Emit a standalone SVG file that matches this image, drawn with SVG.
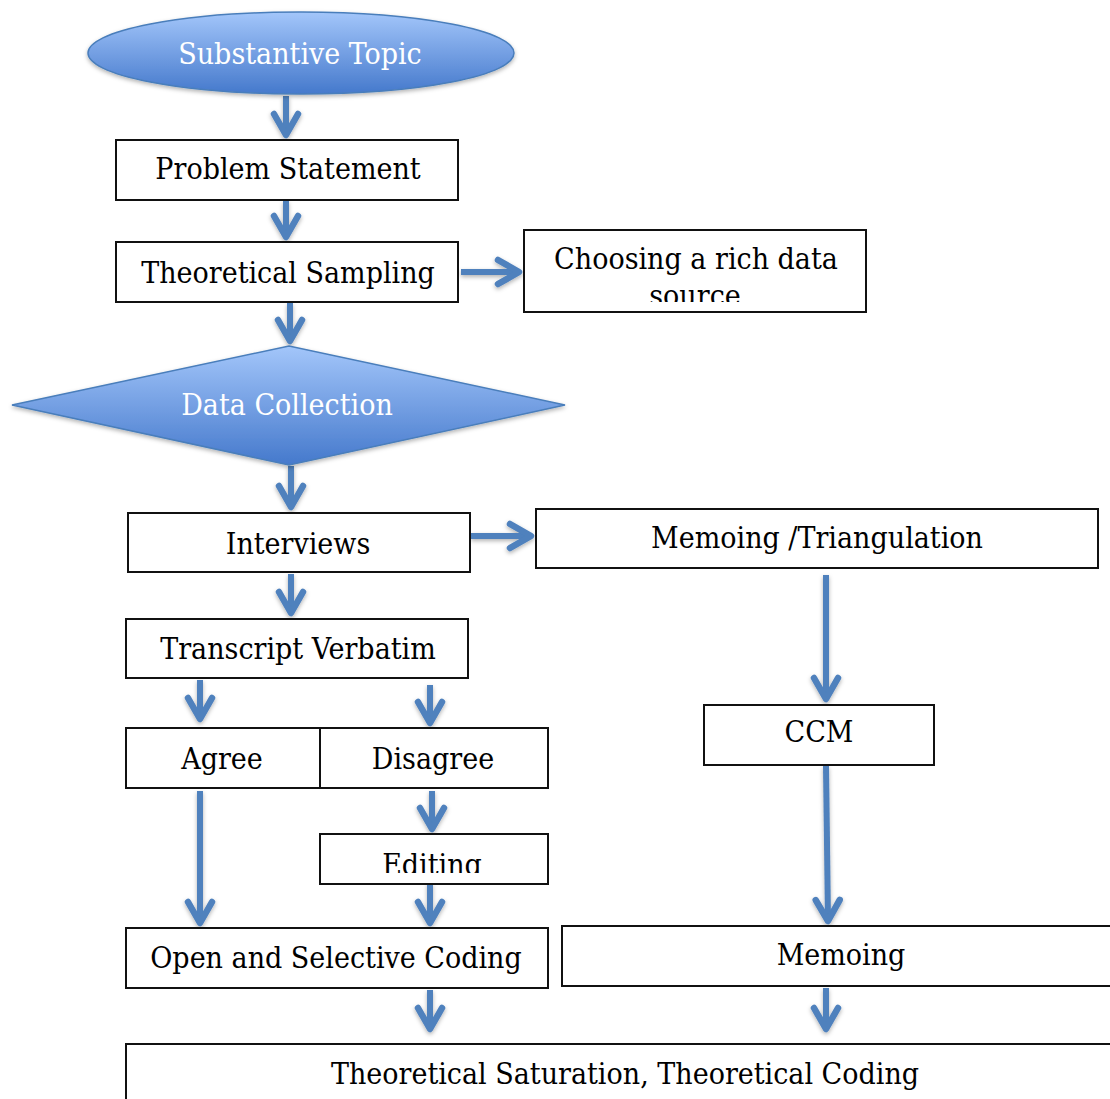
<svg xmlns="http://www.w3.org/2000/svg" width="1110" height="1099" viewBox="0 0 1110 1099">
<style>
.box{fill:#fff;stroke:#111;stroke-width:2}
.t{font-family:"DejaVu Serif Condensed","DejaVu Serif",serif;font-stretch:condensed;font-size:30px;fill:#000;text-anchor:middle}
.w{fill:#fff}
.c{fill:none;stroke:#4f81bd;stroke-width:6;marker-end:url(#ah)}
</style>
<defs>
<linearGradient id="g" x1="0" y1="0" x2="0" y2="1">
<stop offset="0" stop-color="#a3c6fa"/>
<stop offset="1" stop-color="#4579cc"/>
</linearGradient>
<filter id="sh" x="-10%" y="-10%" width="120%" height="130%">
<feDropShadow dx="0" dy="2" stdDeviation="2" flood-color="#000" flood-opacity="0.3"/>
</filter>
<marker id="ah" markerUnits="userSpaceOnUse" viewBox="-28 -16 32 32" markerWidth="32" markerHeight="32" refX="0" refY="0" orient="auto" overflow="visible">
<path d="M-21,-12 L0,0 L-21,12" fill="none" stroke="#4f81bd" stroke-width="6.5" stroke-linecap="round" stroke-linejoin="round"/>
</marker>
<clipPath id="cp1"><rect x="524" y="230" width="342" height="72"/></clipPath>
<clipPath id="cp2"><rect x="320" y="834" width="228" height="39"/></clipPath>
</defs>

<g id="connectors" filter="url(#sh)">
<path class="c" d="M286,96 V135"/>
<path class="c" d="M286,201 V237"/>
<path class="c" d="M461,272 H519"/>
<path class="c" d="M290,303 V341"/>
<path class="c" d="M291,466 V507"/>
<path class="c" d="M471,536 H531"/>
<path class="c" d="M291,574 V613"/>
<path class="c" d="M826,575 V699"/>
<path class="c" d="M200,680 V719"/>
<path class="c" d="M430,685 V723"/>
<path class="c" d="M200,791 V923"/>
<path class="c" d="M432,791 V829"/>
<path class="c" d="M430,883 V923"/>
<path class="c" d="M826,766 L828,921"/>
<path class="c" d="M430,990 V1029"/>
<path class="c" d="M826,988 V1029"/>
</g>

<g id="substantive-topic">
<ellipse cx="301" cy="53" rx="213" ry="41" fill="url(#g)" stroke="#4a7ebb" stroke-width="1.5" filter="url(#sh)"/>
<text class="t w" x="300" y="64">Substantive Topic</text>
</g>
<g id="problem-statement">
<rect class="box" x="116" y="140" width="342" height="60"/>
<text class="t" x="288" y="179">Problem Statement</text>
</g>
<g id="theoretical-sampling">
<rect class="box" x="116" y="242" width="342" height="60"/>
<text class="t" x="288" y="283">Theoretical Sampling</text>
</g>
<g id="choosing">
<rect class="box" x="524" y="230" width="342" height="82"/>
<text class="t" x="696" y="269">Choosing a rich data</text>
<text class="t" x="695" y="306" clip-path="url(#cp1)">source</text>
</g>
<g id="data-collection">
<polygon points="12,405 289,346 565,405 289,465" fill="url(#g)" stroke="#4a7ebb" stroke-width="1.5" filter="url(#sh)"/>
<text class="t w" x="287" y="415">Data Collection</text>
</g>
<g id="interviews">
<rect class="box" x="128" y="513" width="342" height="59"/>
<text class="t" x="298" y="554">Interviews</text>
</g>
<g id="memoing-triangulation">
<rect class="box" x="536" y="509" width="562" height="59"/>
<text class="t" x="817" y="548">Memoing /Triangulation</text>
</g>
<g id="transcript-verbatim">
<rect class="box" x="126" y="619" width="342" height="59"/>
<text class="t" x="298" y="659">Transcript Verbatim</text>
</g>
<g id="agree">
<rect class="box" x="126" y="728" width="194" height="60"/>
<text class="t" x="222" y="769">Agree</text>
</g>
<g id="disagree">
<rect class="box" x="320" y="728" width="228" height="60"/>
<text class="t" x="433" y="769">Disagree</text>
</g>
<g id="ccm">
<rect class="box" x="704" y="705" width="230" height="60"/>
<text class="t" x="819" y="742">CCM</text>
</g>
<g id="editing">
<rect class="box" x="320" y="834" width="228" height="50"/>
<text class="t" x="432" y="875" clip-path="url(#cp2)">Editing</text>
</g>
<g id="open-selective-coding">
<rect class="box" x="126" y="928" width="422" height="60"/>
<text class="t" x="336" y="968">Open and Selective Coding</text>
</g>
<g id="memoing">
<rect class="box" x="562" y="926" width="560" height="60"/>
<text class="t" x="841" y="965">Memoing</text>
</g>
<g id="theoretical-saturation">
<rect class="box" x="126" y="1044" width="1000" height="70"/>
<text class="t" x="625" y="1084">Theoretical Saturation, Theoretical Coding</text>
</g>
</svg>
